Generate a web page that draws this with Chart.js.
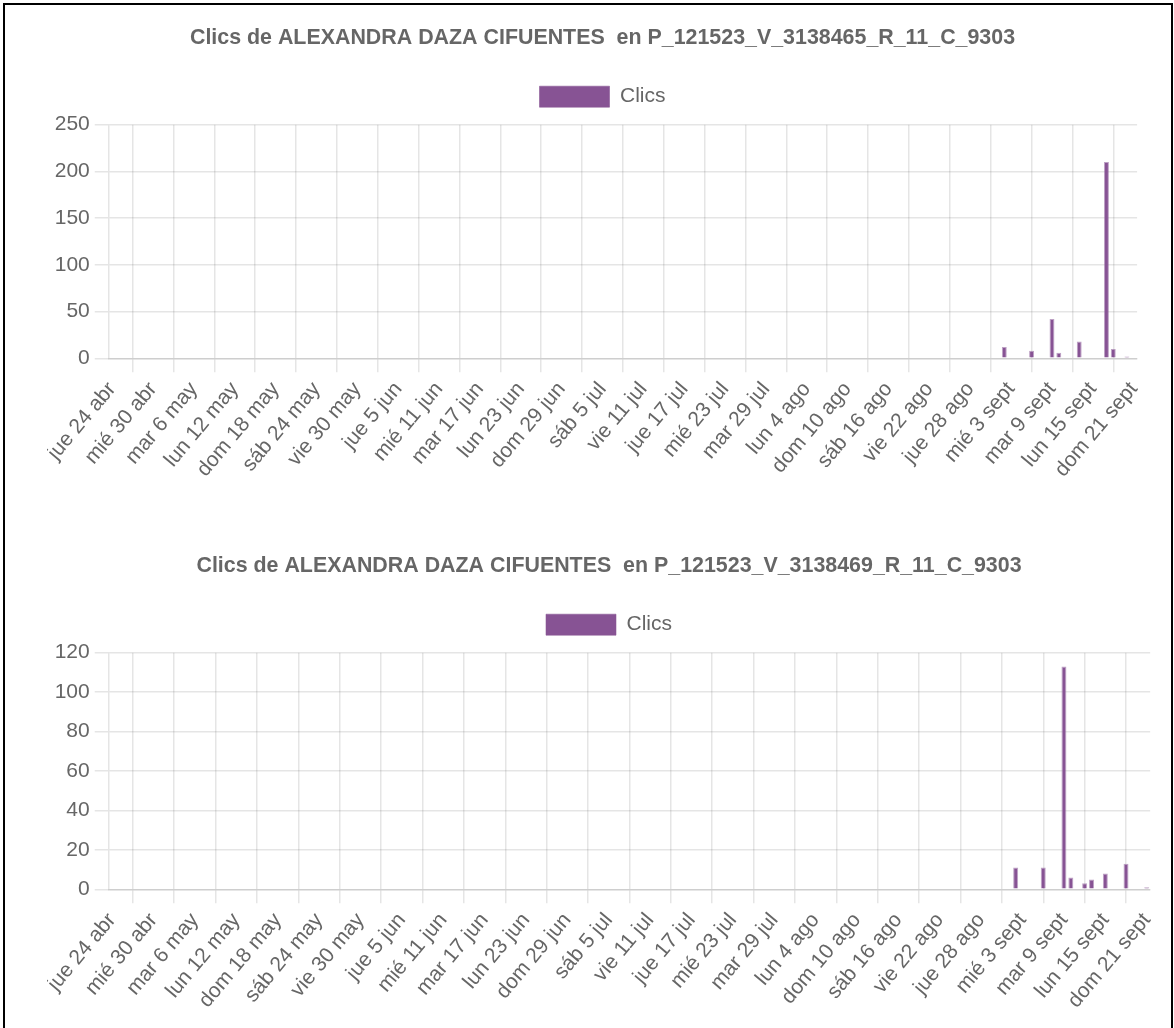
<!DOCTYPE html>
<html>
<head>
<meta charset="utf-8">
<script src="https://cdn.jsdelivr.net/npm/chart.js@4"></script>
<style>
  body { margin: 0; background: #fff; }
  .frame { position: absolute; left: 3px; top: 3px; width: 1166px; height: 1100px; border: 2px solid #000; }
  .box { position: absolute; left: 47px; }
  #b1 { top: 8px; width: 1111px; height: 479px; }
  #b2 { top: 536px; width: 1124px; height: 482px; }
</style>
</head>
<body>
<div class="frame"></div>
<div class="box" id="b1"><canvas id="chart1"></canvas></div>
<div class="box" id="b2"><canvas id="chart2"></canvas></div>
<script>
// days shown: jue 24 abr 2025 .. dom 21 sept 2025
const startDay = "2025-04-24";
const numDays = 151;
const weekdays = ["dom", "lun", "mar", "mié", "jue", "vie", "sáb"];
const months = ["ene", "feb", "mar", "abr", "may", "jun", "jul", "ago", "sept", "oct", "nov", "dic"];

// only days with clicks, everything else is 0
const days1 = ["2025-09-02", "2025-09-06", "2025-09-09", "2025-09-10", "2025-09-13", "2025-09-17", "2025-09-18", "2025-09-20"];
const clics1 = [12, 8, 42, 6, 18, 210, 10, 2];
const days2 = ["2025-09-02", "2025-09-06", "2025-09-09", "2025-09-10", "2025-09-12", "2025-09-13", "2025-09-15", "2025-09-18", "2025-09-21"];
const clics2 = [11, 11, 113, 6, 3, 5, 8, 13, 1];

const title1 = "Clics de ALEXANDRA DAZA CIFUENTES  en P_121523_V_3138465_R_11_C_9303";
const title2 = "Clics de ALEXANDRA DAZA CIFUENTES  en P_121523_V_3138469_R_11_C_9303";

const isoDays = [];
const labels = [];
for (let i = 0; i < numDays; i++) {
  const d = new Date(startDay + "T12:00:00Z");
  d.setUTCDate(d.getUTCDate() + i);
  isoDays.push(d.toISOString().slice(0, 10));
  labels.push(weekdays[d.getUTCDay()] + " " + d.getUTCDate() + " " + months[d.getUTCMonth()]);
}

function series(days, vals) {
  return isoDays.map((iso) => {
    const k = days.indexOf(iso);
    return k < 0 ? 0 : vals[k];
  });
}

Chart.defaults.font.family = "Arial, 'Liberation Sans', sans-serif";
Chart.defaults.font.size = 21;
Chart.defaults.color = "#666";
Chart.defaults.animation = false;

const purple = "#875394";

// a bit more room under the legend
const legendGap = {
  id: "legendGap",
  beforeInit(chart) {
    const fit = chart.legend.fit;
    chart.legend.fit = function () {
      fit.call(this);
      this.height += 7.5;
    };
  },
};

function makeChart(id, title, data) {
  return new Chart(document.getElementById(id), {
    type: "bar",
    data: {
      labels: labels,
      datasets: [
        {
          label: "Clics",
          data: data,
          backgroundColor: purple,
          borderColor: "rgba(135,83,148,0.55)",
          borderWidth: 1,
        },
      ],
    },
    options: {
      responsive: true,
      maintainAspectRatio: false,
      plugins: {
        title: {
          display: true,
          text: title,
          font: { weight: "bold", size: 21.4 },
          padding: 17.5,
        },
        legend: {
          labels: { boxWidth: 70, boxHeight: 21, padding: 17.5 },
        },
        tooltip: { enabled: false },
      },
      scales: {
        x: {
          grid: { tickLength: 14, lineWidth: 1.5 },
          border: { width: 1.5 },
          ticks: { padding: 5, minRotation: 50, maxRotation: 50 },
        },
        y: {
          beginAtZero: true,
          grid: { tickLength: 14, lineWidth: 1.5 },
          border: { width: 1.5 },
          ticks: { padding: 5 },
        },
      },
    },
    plugins: [legendGap],
  });
}

makeChart("chart1", title1, series(days1, clics1));
makeChart("chart2", title2, series(days2, clics2));
</script>
</body>
</html>
